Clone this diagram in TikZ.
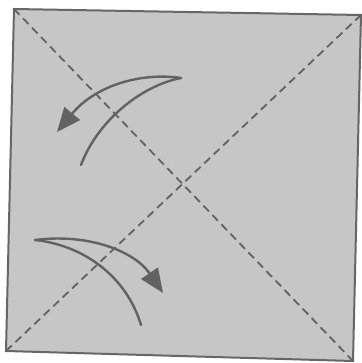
\documentclass[tikz,border=0pt]{standalone}
\usetikzlibrary{arrows.meta}
\definecolor{paper}{HTML}{C6C6C6}
\definecolor{edge}{HTML}{666666}
\definecolor{ink}{HTML}{626262}
\tikzset{
  crease/.style={ink, line width=1.8pt, dash pattern=on 8pt off 5pt},
  foldarrow/.style={ink, line width=2.4pt, line cap=round},
  foldhead/.style={-{Triangle[length=24pt,width=20pt]}}
}
\begin{document}
\begin{tikzpicture}[x=1pt,y=-1pt]
\useasboundingbox (0,0) rectangle (361,363);
\fill[white] (0,0) rectangle (361,363);
% square sheet
\coordinate (tl) at (14,9);
\coordinate (tr) at (361,15);
\coordinate (br) at (353,361);
\coordinate (bl) at (6,351);
\filldraw[fill=paper, draw=edge, line width=2pt] (tl) -- (tr) -- (br) -- (bl) -- cycle;
% diagonal creases
\draw[crease] (tl) -- (br);
\draw[crease] (bl) -- (tr);
% upper fold arrow
\coordinate (a1s) at (81,165);
\coordinate (a1t) at (181,78);
\coordinate (a1e) at (57,132);
\draw[foldarrow] (a1s) .. controls (97,122) and (140,86) .. (a1t);
\draw[foldarrow, foldhead] (a1t) .. controls (140,72) and (95,86) .. (a1e);
% lower fold arrow
\coordinate (a2s) at (141,325);
\coordinate (a2t) at (35,240);
\coordinate (a2e) at (163,293);
\draw[foldarrow] (a2s) .. controls (126,275) and (82,245) .. (a2t);
\draw[foldarrow, foldhead] (a2t) .. controls (90,233) and (135,252) .. (a2e);
\end{tikzpicture}
\end{document}
